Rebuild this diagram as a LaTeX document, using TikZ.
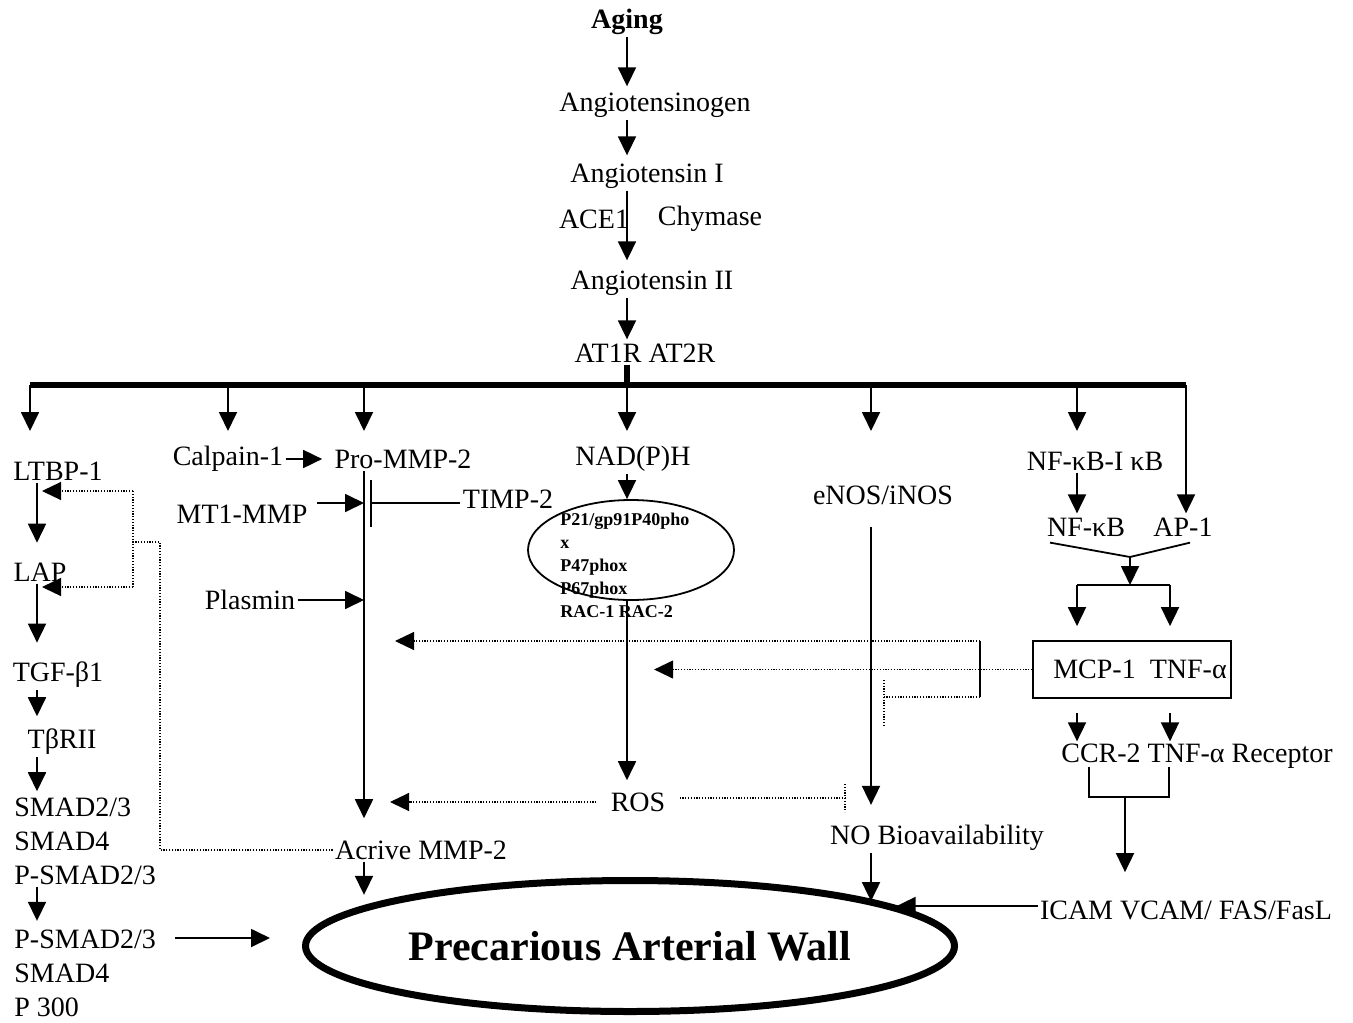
\documentclass[tikz,border=0pt]{standalone}
\usepackage{fontspec}
\setmainfont{Liberation Serif}
\usetikzlibrary{arrows.meta, positioning, shapes.geometric, calc}

\begin{document}
\begin{tikzpicture}[
    x=0.5pt, y=-0.5pt,
    every node/.style={font=\fontsize{14}{17}\selectfont, inner sep=1pt},
    arrow/.style={-{Triangle[length=9.5pt, width=9pt]}, line width=0.9pt},
    link/.style={line width=0.9pt},
    inhib/.style={-{Bar[width=23.5pt]}, line width=0.9pt},
    dots/.style={line width=0.6pt, dash pattern=on 0.6pt off 0.8pt},
    dotarrow/.style={dots, -{Triangle[length=9.5pt, width=9pt]}},
    stack/.style={align=left, anchor=west},
    small/.style={font=\fontsize{9}{11.5}\selectfont\bfseries, align=left, anchor=north west},
    bigbold/.style={font=\fontsize{14}{17}\selectfont\bfseries}
]
\useasboundingbox (0,0) rectangle (1353,1022);

% angiotensin chain
\node[bigbold] (aging) at (627,22) {Aging};
\node (angiogen) at (655,105) {Angiotensinogen};
\node (angI) at (647,176) {Angiotensin I};
\node (ace) at (594,219) {ACE1};
\node (chym) at (710,219) {Chymase};
\node (angII) at (652,283) {Angiotensin II};
\node (atr) at (645,353) {AT1R AT2R};

\coordinate (hub) at (627,385);
\coordinate (barL) at (30,385);
\coordinate (barR) at (1186,385);

\draw[arrow] (aging) -- ([yshift=2pt]aging |- angiogen.north);
\draw[arrow] (angiogen.south -| aging) -- ([yshift=3pt]angI.north -| aging);
\draw[arrow] (angI.south -| aging) -- ([yshift=4pt]angII.north -| aging);
\draw[arrow] (angII.south -| aging) -- ([yshift=1pt]atr.north -| aging);
\draw[line width=3pt] (atr.south -| hub) -- (hub);
\draw[line width=3pt] (barL) -- (barR);

% branches
\node (ltbp) at (58,471) {LTBP-1};
\node (lap) at (40,572) {LAP};
\node (tgf) at (58,675) {TGF-β1};
\node (tbr) at (62,742) {TβRII};
\node[stack] (smadA) at (12,841) {SMAD2/3\\SMAD4\\P-SMAD2/3};
\node[stack] (smadB) at (12,973) {P-SMAD2/3\\SMAD4\\P 300};

\node (calp) at (228,459) {Calpain-1};
\node (promm) at (403,459) {Pro-MMP-2};
\node (mt1) at (242,514) {MT1-MMP};
\node (timp) at (508,499) {TIMP-2};
\node (plas) at (250,600) {Plasmin};
\node (actmm) at (421,850) {Acrive MMP-2};

\node (nadph) at (633,459) {NAD(P)H};
\node[ellipse, draw, line width=0.9pt, minimum width=103pt, minimum height=50pt, inner sep=0pt] (phox) at (631,550) {};
\node[small] (phoxtxt) at (558,511) {P21/gp91P40pho\\x\\P47phox\\P67phox\\RAC-1 RAC-2};
\node (ros) at (638,802) {ROS};

\node (enos) at (883,495) {eNOS/iNOS};
\node (nobio) at (937,838) {NO Bioavailability};

\node (nfkbi) at (1095,461) {NF-κB-I κB};
\node (nfkb) at (1086,527) {NF-κB};
\node (ap1) at (1183,527) {AP-1};
\node[draw, line width=0.9pt, minimum width=99pt, minimum height=28.5pt] (mcp) at (1132,669.5) {\hspace*{8pt}MCP-1\hspace{7pt}TNF-α};
\node (ccr) at (1197,756) {CCR-2 TNF-α Receptor};
\node (icam) at (1186,910) {ICAM VCAM/ FAS/FasL};

\node[ellipse, draw, line width=3.5pt, minimum width=324.5pt, minimum height=65.5pt,
      font=\fontsize{21}{25}\selectfont\bfseries] (wall) at (630,946) {Precarious Arterial Wall};

% drops from the bar
\foreach \n/\x in {ltbp/30, calp/228, promm/364, nadph/627, enos/871, nfkbi/1077}{
  \coordinate (drop-\n) at (\x,431);
  \draw[arrow] (hub -| drop-\n) -- (drop-\n);
}
\draw[arrow] (barR) -- ([yshift=1pt]barR |- ap1.north);

% TGF-beta column
\coordinate (lcol) at (37,0);
\draw[arrow] (ltbp.south -| lcol) -- ++(0,60);
\draw[arrow] (lap.south -| lcol) -- ++(0,59);
\draw[arrow] (tgf.south -| lcol) -- ++(0,26);
\draw[arrow] (tbr.south -| lcol) -- ++(0,34);
\draw[arrow] (smadA.south -| lcol) -- ++(0,34);
\coordinate (smadout) at (175,938);
\draw[arrow] (smadout) -- ++(95,0);

% MMP-2 column
\coordinate (mcol) at (364,0);
\coordinate (mtin) at (317,503);
\draw[arrow] (calp.east) -- ([xshift=-5pt]promm.west);
\draw[arrow] (mtin) -- (mcol |- mtin);
\draw[inhib] ([yshift=-2pt]timp.west) -- ([xshift=3pt]mcol |- mtin);
\draw[arrow] (plas) -- (mcol |- plas);
\draw[arrow] (promm.south -| mcol) -- ([yshift=10pt]actmm.north -| mcol);
\draw[arrow] (actmm.south -| mcol) -- ++(0,33);

% NADPH oxidase
\draw[arrow] (nadph.south -| aging) -- (aging |- phox.north);
\draw[link] (aging |- phox.south) -- (aging |- 0,600);
\draw[arrow] (aging |- 0,600) -- ([yshift=5pt]ros.north -| aging);
\draw[dotarrow] ([xshift=-6pt]ros.west) -- ([xshift=13pt]mcol |- ros.west);
\coordinate (rosbar) at (845,798);
\draw[dots] ([xshift=6pt]ros.east |- rosbar) -- (rosbar);
\draw[dots] ([yshift=7pt]rosbar) -- ([yshift=-7pt]rosbar);

% NO column
\coordinate (ncol) at (871,0);
\draw[arrow] ([yshift=-10pt]enos.south -| ncol) -- ([yshift=9pt]nobio.north -| ncol);
\draw[arrow] (nobio.south -| ncol) -- ++(0,48);
\draw[arrow] ([yshift=2pt]icam.west) -- ++(-141,0);

% NF-kB column
\coordinate (rcol) at (1077,0);
\coordinate (tcol) at (1170,0);
\coordinate (merge) at (1130,557);
\coordinate (split) at (1130,585);
\draw[arrow] (nfkbi.south -| rcol) -- ([yshift=1pt]nfkb.north -| rcol);
\draw[link] ([xshift=-18pt,yshift=-2pt]nfkb.south) -- (merge) -- ([xshift=3.5pt,yshift=-2pt]ap1.south);
\draw[arrow] (merge) -- (split);
\draw[link] (split -| rcol) -- (split -| tcol);
\draw[arrow] (split -| rcol) -- ([yshift=7pt]mcp.north -| rcol);
\draw[arrow] (split -| tcol) -- ([yshift=7pt]mcp.north -| tcol);
\draw[arrow] ([yshift=-7pt]mcp.south -| rcol) -- (ccr.north -| rcol);
\draw[arrow] ([yshift=-7pt]mcp.south -| tcol) -- (ccr.north -| tcol);
\coordinate (bl) at (1089,797);
\coordinate (br) at (1169,797);
\coordinate (brk) at (1125,797);
\draw[link] ([yshift=2pt]bl |- ccr.south) -- (bl) -- (br) -- ([yshift=2pt]br |- ccr.south);
\draw[arrow] (brk) -- ([yshift=13pt]brk |- icam.north);

% feedback from MCP-1 / TNF-alpha
\coordinate (fork) at (980,641);
\coordinate (forkb) at (980,697);
\coordinate (nobar) at (884,697);
\draw[dotarrow] (mcp.west) -- ++(-378,0);
\draw[link] (fork) -- (forkb);
\draw[dotarrow] (fork) -- ++(-585,0);
\draw[dots] (forkb) -- (nobar);
\draw[dots] ([yshift=8.5pt]nobar) -- ([yshift=-14pt]nobar);

% feedback from active MMP-2
\coordinate (fbA) at (133,491);
\coordinate (fbB) at (133,587);
\coordinate (fbM) at (133,542);
\coordinate (fbC) at (160,542);
\draw[dots] (actmm.west) -| (fbC) -- (fbM);
\draw[dots] (fbA) -- (fbB);
\draw[dotarrow] (fbA) -- ++(-91,0);
\draw[dotarrow] (fbB) -- ++(-91,0);
\end{tikzpicture}
\end{document}
